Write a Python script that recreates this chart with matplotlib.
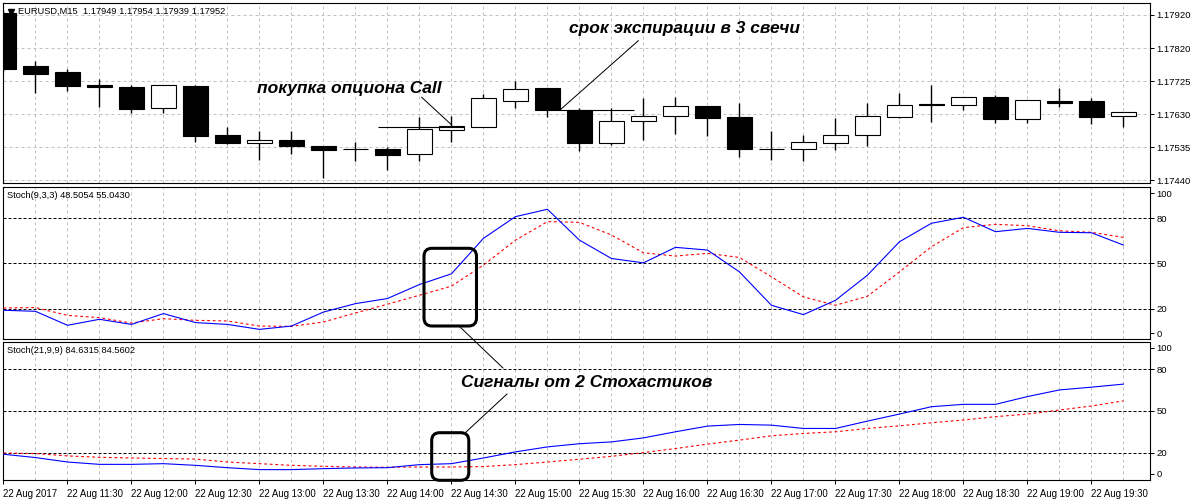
import numpy as np
import matplotlib
matplotlib.use("Agg")
import matplotlib.pyplot as plt
from matplotlib.lines import Line2D
from matplotlib.patches import FancyBboxPatch

plt.rcParams["font.family"] = ["Liberation Sans", "DejaVu Sans"]

# EURUSD M15, 22 Aug 2017 11:00 .. 19:45
opens = [1.17927, 1.17772, 1.17755, 1.17717, 1.17711, 1.17649, 1.17714, 1.17572, 1.17549,
         1.17557, 1.17540, 1.17531, 1.17531, 1.17515, 1.17586, 1.17594, 1.17669, 1.17707,
         1.17643, 1.17547, 1.17611, 1.17626, 1.17655, 1.17624, 1.17532, 1.17530, 1.17547,
         1.17571, 1.17623, 1.17661, 1.17658, 1.17681, 1.17617, 1.17670, 1.17670, 1.17626]
highs = [1.17935, 1.17786, 1.17762, 1.17733, 1.17717, 1.17716, 1.17716, 1.17596, 1.17583,
         1.17584, 1.17540, 1.17552, 1.17538, 1.17625, 1.17627, 1.17691, 1.17728, 1.17707,
         1.17649, 1.17649, 1.17679, 1.17681, 1.17655, 1.17664, 1.17582, 1.17572, 1.17622,
         1.17664, 1.17694, 1.17717, 1.17683, 1.17688, 1.17673, 1.17709, 1.17678, 1.17637]
lows = [1.17754, 1.17694, 1.17700, 1.17654, 1.17636, 1.17635, 1.17552, 1.17545, 1.17499,
        1.17516, 1.17447, 1.17497, 1.17470, 1.17497, 1.17552, 1.17594, 1.17651, 1.17625,
        1.17526, 1.17542, 1.17558, 1.17574, 1.17569, 1.17508, 1.17499, 1.17497, 1.17528,
        1.17540, 1.17620, 1.17609, 1.17644, 1.17607, 1.17607, 1.17654, 1.17603, 1.17596]
closes = [1.17764, 1.17750, 1.17715, 1.17712, 1.17648, 1.17716, 1.17570, 1.17549, 1.17556,
          1.17540, 1.17529, 1.17531, 1.17514, 1.17588, 1.17597, 1.17678, 1.17704, 1.17643,
          1.17549, 1.17611, 1.17626, 1.17655, 1.17620, 1.17532, 1.17531, 1.17550, 1.17571,
          1.17627, 1.17658, 1.17658, 1.17681, 1.17617, 1.17673, 1.17664, 1.17625, 1.17637]

stoch1_main = [18.9, 18.2, 8.9, 12.9, 9.5, 16.7, 10.7, 9.5, 6.2, 8.4, 17.7, 23.3, 26.7, 36.0,
               43.1, 66.7, 81.1, 86.0, 65.5, 53.3, 50.4, 60.7, 58.9, 44.4, 22.2, 16.0, 25.5,
               42.2, 64.4, 76.7, 80.7, 71.1, 73.3, 70.7, 70.4, 62.2]
stoch1_signal = [20.4, 20.7, 15.5, 14.0, 10.4, 13.3, 12.2, 11.8, 8.4, 8.2, 11.1, 17.1, 22.9,
                 28.9, 34.9, 48.9, 65.5, 77.8, 77.3, 68.9, 57.1, 54.9, 56.7, 54.0, 41.1, 27.8,
                 22.2, 28.2, 44.4, 61.1, 73.8, 76.0, 75.1, 71.7, 70.7, 67.3]
stoch2_main = [18.8, 16.4, 13.2, 11.5, 11.5, 12.0, 10.8, 9.1, 7.7, 7.7, 8.4, 8.9, 9.1, 11.3,
               12.0, 16.1, 20.5, 24.1, 26.4, 27.7, 30.6, 35.0, 39.1, 40.3, 39.8, 37.4, 37.4,
               42.7, 47.8, 53.1, 54.8, 54.8, 60.4, 65.2, 67.2, 69.4]
stoch2_signal = [19.7, 19.3, 17.6, 16.6, 16.1, 15.7, 15.3, 13.2, 12.0, 10.8, 10.1, 9.6, 9.4,
                 9.6, 9.6, 9.9, 11.3, 13.2, 15.2, 17.3, 20.0, 22.9, 26.1, 29.0, 32.1, 33.8,
                 35.0, 37.4, 39.3, 41.5, 43.5, 45.9, 47.8, 50.7, 53.6, 57.3]

time_labels = ["22 Aug 2017", "22 Aug 11:30", "22 Aug 12:00", "22 Aug 12:30", "22 Aug 13:00",
               "22 Aug 13:30", "22 Aug 14:00", "22 Aug 14:30", "22 Aug 15:00", "22 Aug 15:30",
               "22 Aug 16:00", "22 Aug 16:30", "22 Aug 17:00", "22 Aug 17:30", "22 Aug 18:00",
               "22 Aug 18:30", "22 Aug 19:00", "22 Aug 19:30"]
price_labels = ["1.17440", "1.17535", "1.17630", "1.17725", "1.17820", "1.17920"]
stoch_levels = [20, 50, 80]

W, H = 1192, 501
fig = plt.figure(figsize=(W / 100, H / 100), dpi=100)


def rect(left, top, right, bottom):
    return [left / W, 1 - bottom / H, (right - left) / W, (bottom - top) / H]


def fx(x):
    return x / W


def fy(y):
    return 1 - y / H


ax1 = fig.add_axes(rect(2.5, 2.7, 1150, 182.7))
ax2 = fig.add_axes(rect(2.5, 186.7, 1150, 338.7))
ax3 = fig.add_axes(rect(2.5, 341.7, 1150, 480.3))

x = np.arange(len(opens))
o, h, l, c = (np.array(v) for v in (opens, highs, lows, closes))
grid_kw = dict(color="#c0c0c0", lw=0.72, ls=(0, (3, 3)))

for ax in (ax1, ax2, ax3):
    ax.set_xlim(-0.03, 35.83)
    ax.set_xticks(x[::2])
    ax.set_xticks(x, minor=True)
    ax.grid(True, which="both", axis="x", **grid_kw)
    ax.set_axisbelow(True)
    ax.yaxis.tick_right()
    ax.tick_params(axis="y", direction="out", length=3, width=0.72, labelsize=6.8, pad=1.5)
    ax.tick_params(axis="x", which="minor", length=0)
    for s in ax.spines.values():
        s.set_linewidth(0.8)

for ax in (ax1, ax2):
    ax.tick_params(axis="x", which="major", length=0, labelbottom=False)

# --- candles
ax1.vlines(x, l, h, color="black", lw=1.0, zorder=2)
ax1.bar(x, np.abs(c - o), bottom=np.minimum(o, c), width=0.76,
        color=np.where(c > o, "white", "black"), edgecolor="black", linewidth=0.8, zorder=3)
ax1.set_ylim(1.17433, 1.179557)
ax1.set_yticks(np.linspace(1.17440, 1.17920, 6), price_labels)
ax1.grid(True, axis="y", **grid_kw)
# horizontal trend lines drawn by the trader
ax1.hlines(closes[14] - 0.00001, 11.7, 14.4, color="black", lw=0.8, zorder=4)
ax1.hlines(opens[18] + 0.00001, 17.4, 19.7, color="black", lw=0.8, zorder=4)

# --- stochastics
for ax, main, sig, ticks in ((ax2, stoch1_main, stoch1_signal, [3.7, 20, 50, 80, 96.7]),
                             (ax3, stoch2_main, stoch2_signal, [4.8, 20, 50, 80, 95.5])):
    ax.set_ylim(0, 100)
    for lv in stoch_levels:
        ax.axhline(lv, color="black", lw=0.72, ls=(0, (3, 2)), zorder=1)
    ax.plot(x, sig, color="#ff0000", lw=0.8, ls=(0, (2.5, 2.5)), zorder=3)
    ax.plot(x, main, color="#0000ff", lw=0.8, zorder=4)
    ax.set_yticks(ticks, ["0", "20", "50", "80", "100"])
ax2.set_ylim(0, 101)

ax3.set_xticklabels(time_labels, ha="left")
ax3.tick_params(axis="x", which="major", length=3, width=0.72, labelsize=6.9, pad=3)

# --- headers
fig.add_artist(Line2D([fx(11)], [fy(11.5)], marker="v", color="black", markersize=5))
fig.text(fx(18), fy(11), "EURUSD,M15  1.17949 1.17954 1.17939 1.17952", fontsize=6.7, va="center")
fig.text(fx(7), fy(195.5), "Stoch(9,3,3) 48.5054 55.0430", fontsize=6.7, va="center")
fig.text(fx(7), fy(350.5), "Stoch(21,9,9) 84.6315 84.5602", fontsize=6.7, va="center")

# --- annotations
ann_kw = dict(fontsize=12.5, fontweight="bold", fontstyle="italic", va="baseline", ha="left")
fig.text(fx(257), fy(93.3), "покупка опциона Call", **ann_kw)
fig.text(fx(569), fy(33.3), "срок экспирации в 3 свечи", **ann_kw)
fig.text(fx(461), fy(386.7), "Сигналы от 2 Стохастиков", **ann_kw)

for (x0, y0), (x1, y1) in [((421.7, 97.3), (451.7, 125)), ((638.3, 40.7), (560, 110)),
                           ((459, 326), (503, 368)), ((465, 433), (507, 394))]:
    fig.add_artist(Line2D([fx(x0), fx(x1)], [fy(y0), fy(y1)], color="black", lw=0.72))

for left, top, right, bottom in [(424, 248.3, 476.5, 326), (431.7, 432.7, 468.8, 480.3)]:
    fig.add_artist(FancyBboxPatch((left / 100, (H - bottom) / 100), (right - left) / 100,
                                  (bottom - top) / 100, boxstyle="round,pad=0,rounding_size=0.08",
                                  transform=fig.dpi_scale_trans, fill=False,
                                  edgecolor="black", lw=2.2, zorder=10))

fig.savefig("out.png", dpi=100)
